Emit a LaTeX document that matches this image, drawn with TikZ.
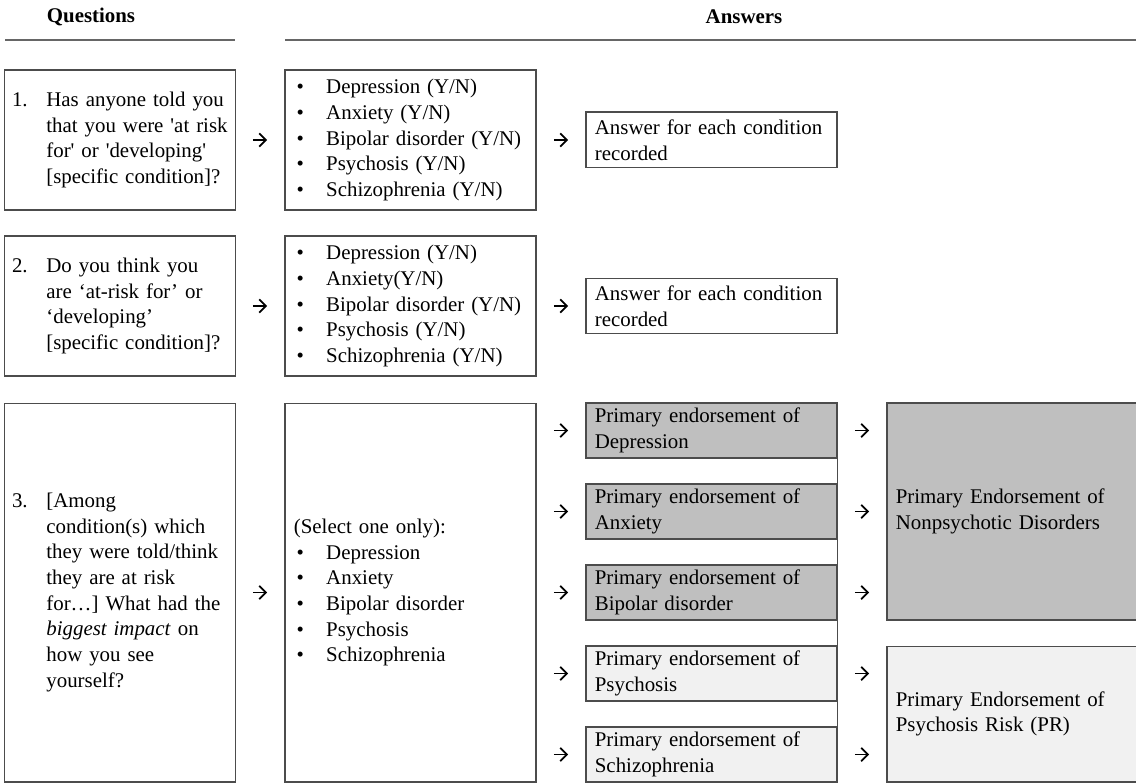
\documentclass[tikz,border=0pt]{standalone}
\usepackage{fontspec}
\setmainfont{Liberation Serif}
\usetikzlibrary{arrows.meta}
\usetikzlibrary{positioning}
\usetikzlibrary{calc}
\definecolor{darkfill}{HTML}{BFBFBF}
\definecolor{lightfill}{HTML}{F1F1F1}
\newcommand{\bul}{\makebox[18.3pt][l]{\hspace{1.5pt}\textbullet}}
\newcommand{\qnum}[2]{\makebox[19.4pt][l]{#1}\parbox[t]{102.6pt}{\raggedright\hfuzz=20pt #2}}
\newcommand{\gnode}[4]{\node(#1)[gbox,fill=#2] at (711.5,#3) {Primary endorsement of\\#4}}

\begin{document}
\begin{tikzpicture}[
        x=0.565pt, y=-0.565pt,
        every node/.style={font=\fontsize{11.8}{14.5}\selectfont},
        head/.style={font=\fontsize{11.8}{14.5}\selectfont\bfseries},
        rule/.style={draw=black!60, line width=0.8pt},
        boxline/.style={draw=black!70, line width=0.6pt},
        box/.style={rectangle, boxline, inner xsep=5pt, inner ysep=0pt, align=left},
        qbox/.style={box, inner xsep=4pt, text width=122pt, minimum width=130pt},
        abox/.style={box, text width=131.8pt, minimum width=141.8pt},
        gbox/.style={abox, minimum height=31.1pt},
        bbox/.style={box, text width=130.7pt, minimum width=140.7pt},
        arr/.style={-{Straight Barb[length=3.8pt,width=7.5pt]}, line width=1pt,
                    shorten <=9.8pt, shorten >=9.8pt}
      ]
      \useasboundingbox (0,0) rectangle (1136,783);

      \node(qhead)[head] at (91,17) {Questions};
      \node(ahead)[head] at (744,17) {Answers};
      \draw[rule] (5,40) -- (235,40);
      \draw[rule] (285,40) -- (1136,40);

      \node(q1)[qbox, minimum height=79.1pt] at (120,140) {\qnum{1.}{Has anyone told you\\\mbox{that you were \textquotesingle at risk}\\for\textquotesingle{} or \textquotesingle developing\textquotesingle\\{}[specific condition]?}};
      \node(a1)[abox, minimum height=79.1pt] at (410.5,140) {\bul Depression (Y/N)\\\bul Anxiety (Y/N)\\\bul Bipolar disorder (Y/N)\\\bul Psychosis (Y/N)\\\bul Schizophrenia (Y/N)};
      \node(r1)[abox, minimum height=31.6pt] at (711.5,140) {Answer for each condition\\recorded};

      \node(q2)[qbox, minimum height=79.1pt] at (120,306) {\qnum{2.}{Do you think you\\are ‘at-risk for’ or\\‘developing’\\{}[specific condition]?}};
      \node(a2)[abox, minimum height=79.1pt] at (410.5,306) {\bul Depression (Y/N)\\\bul Anxiety(Y/N)\\\bul Bipolar disorder (Y/N)\\\bul Psychosis (Y/N)\\\bul Schizophrenia (Y/N)};
      \node(r2)[abox, minimum height=31.6pt] at (711.5,306) {Answer for each condition\\recorded};

      \node(q3)[qbox, minimum height=214.1pt] at (120,592.5) {\qnum{3.}{[Among\\condition(s) which\\they were told/think\\they are at risk\\for…] What had the\\\textit{biggest impact} on\\how you see\\yourself?}};
      \node(a3)[abox, minimum height=214.1pt] at (410.5,592.5) {(Select one only):\\\bul Depression\\\bul Anxiety\\\bul Bipolar disorder\\\bul Psychosis\\\bul Schizophrenia};

      \gnode{dep}{darkfill}{430.5}{Depression};
      \gnode{anx}{darkfill}{511.5}{Anxiety};
      \gnode{bip}{darkfill}{592.5}{Bipolar disorder};
      \gnode{psy}{lightfill}{673.5}{Psychosis};
      \gnode{sch}{lightfill}{754.5}{Schizophrenia};

      \node(nonpsy)[bbox, fill=darkfill, minimum height=122.6pt] at (1011.5,511.5) {Primary Endorsement of\\Nonpsychotic Disorders};
      \node(pr)[bbox, fill=lightfill, minimum height=76.8pt] at (1011.5,714) {Primary Endorsement of\\Psychosis Risk (PR)};

      \draw[boxline] (dep.north east) -- (sch.south east);

      \draw[arr] (q1) -- (a1);
      \draw[arr] (a1) -- (r1);
      \draw[arr] (q2) -- (a2);
      \draw[arr] (a2) -- (r2);
      \draw[arr] (q3) -- (a3);
      \draw[arr] (a3.east |- dep) -- (dep);
      \draw[arr] (a3.east |- anx) -- (anx);
      \draw[arr] (a3.east |- bip) -- (bip);
      \draw[arr] (a3.east |- psy) -- (psy);
      \draw[arr] (a3.east |- sch) -- (sch);
      \draw[arr] (dep) -- (dep -| nonpsy.west);
      \draw[arr] (anx) -- (anx -| nonpsy.west);
      \draw[arr] (bip) -- (bip -| nonpsy.west);
      \draw[arr] (psy) -- (psy -| pr.west);
      \draw[arr] (sch) -- (sch -| pr.west);
    \end{tikzpicture}
\end{document}
